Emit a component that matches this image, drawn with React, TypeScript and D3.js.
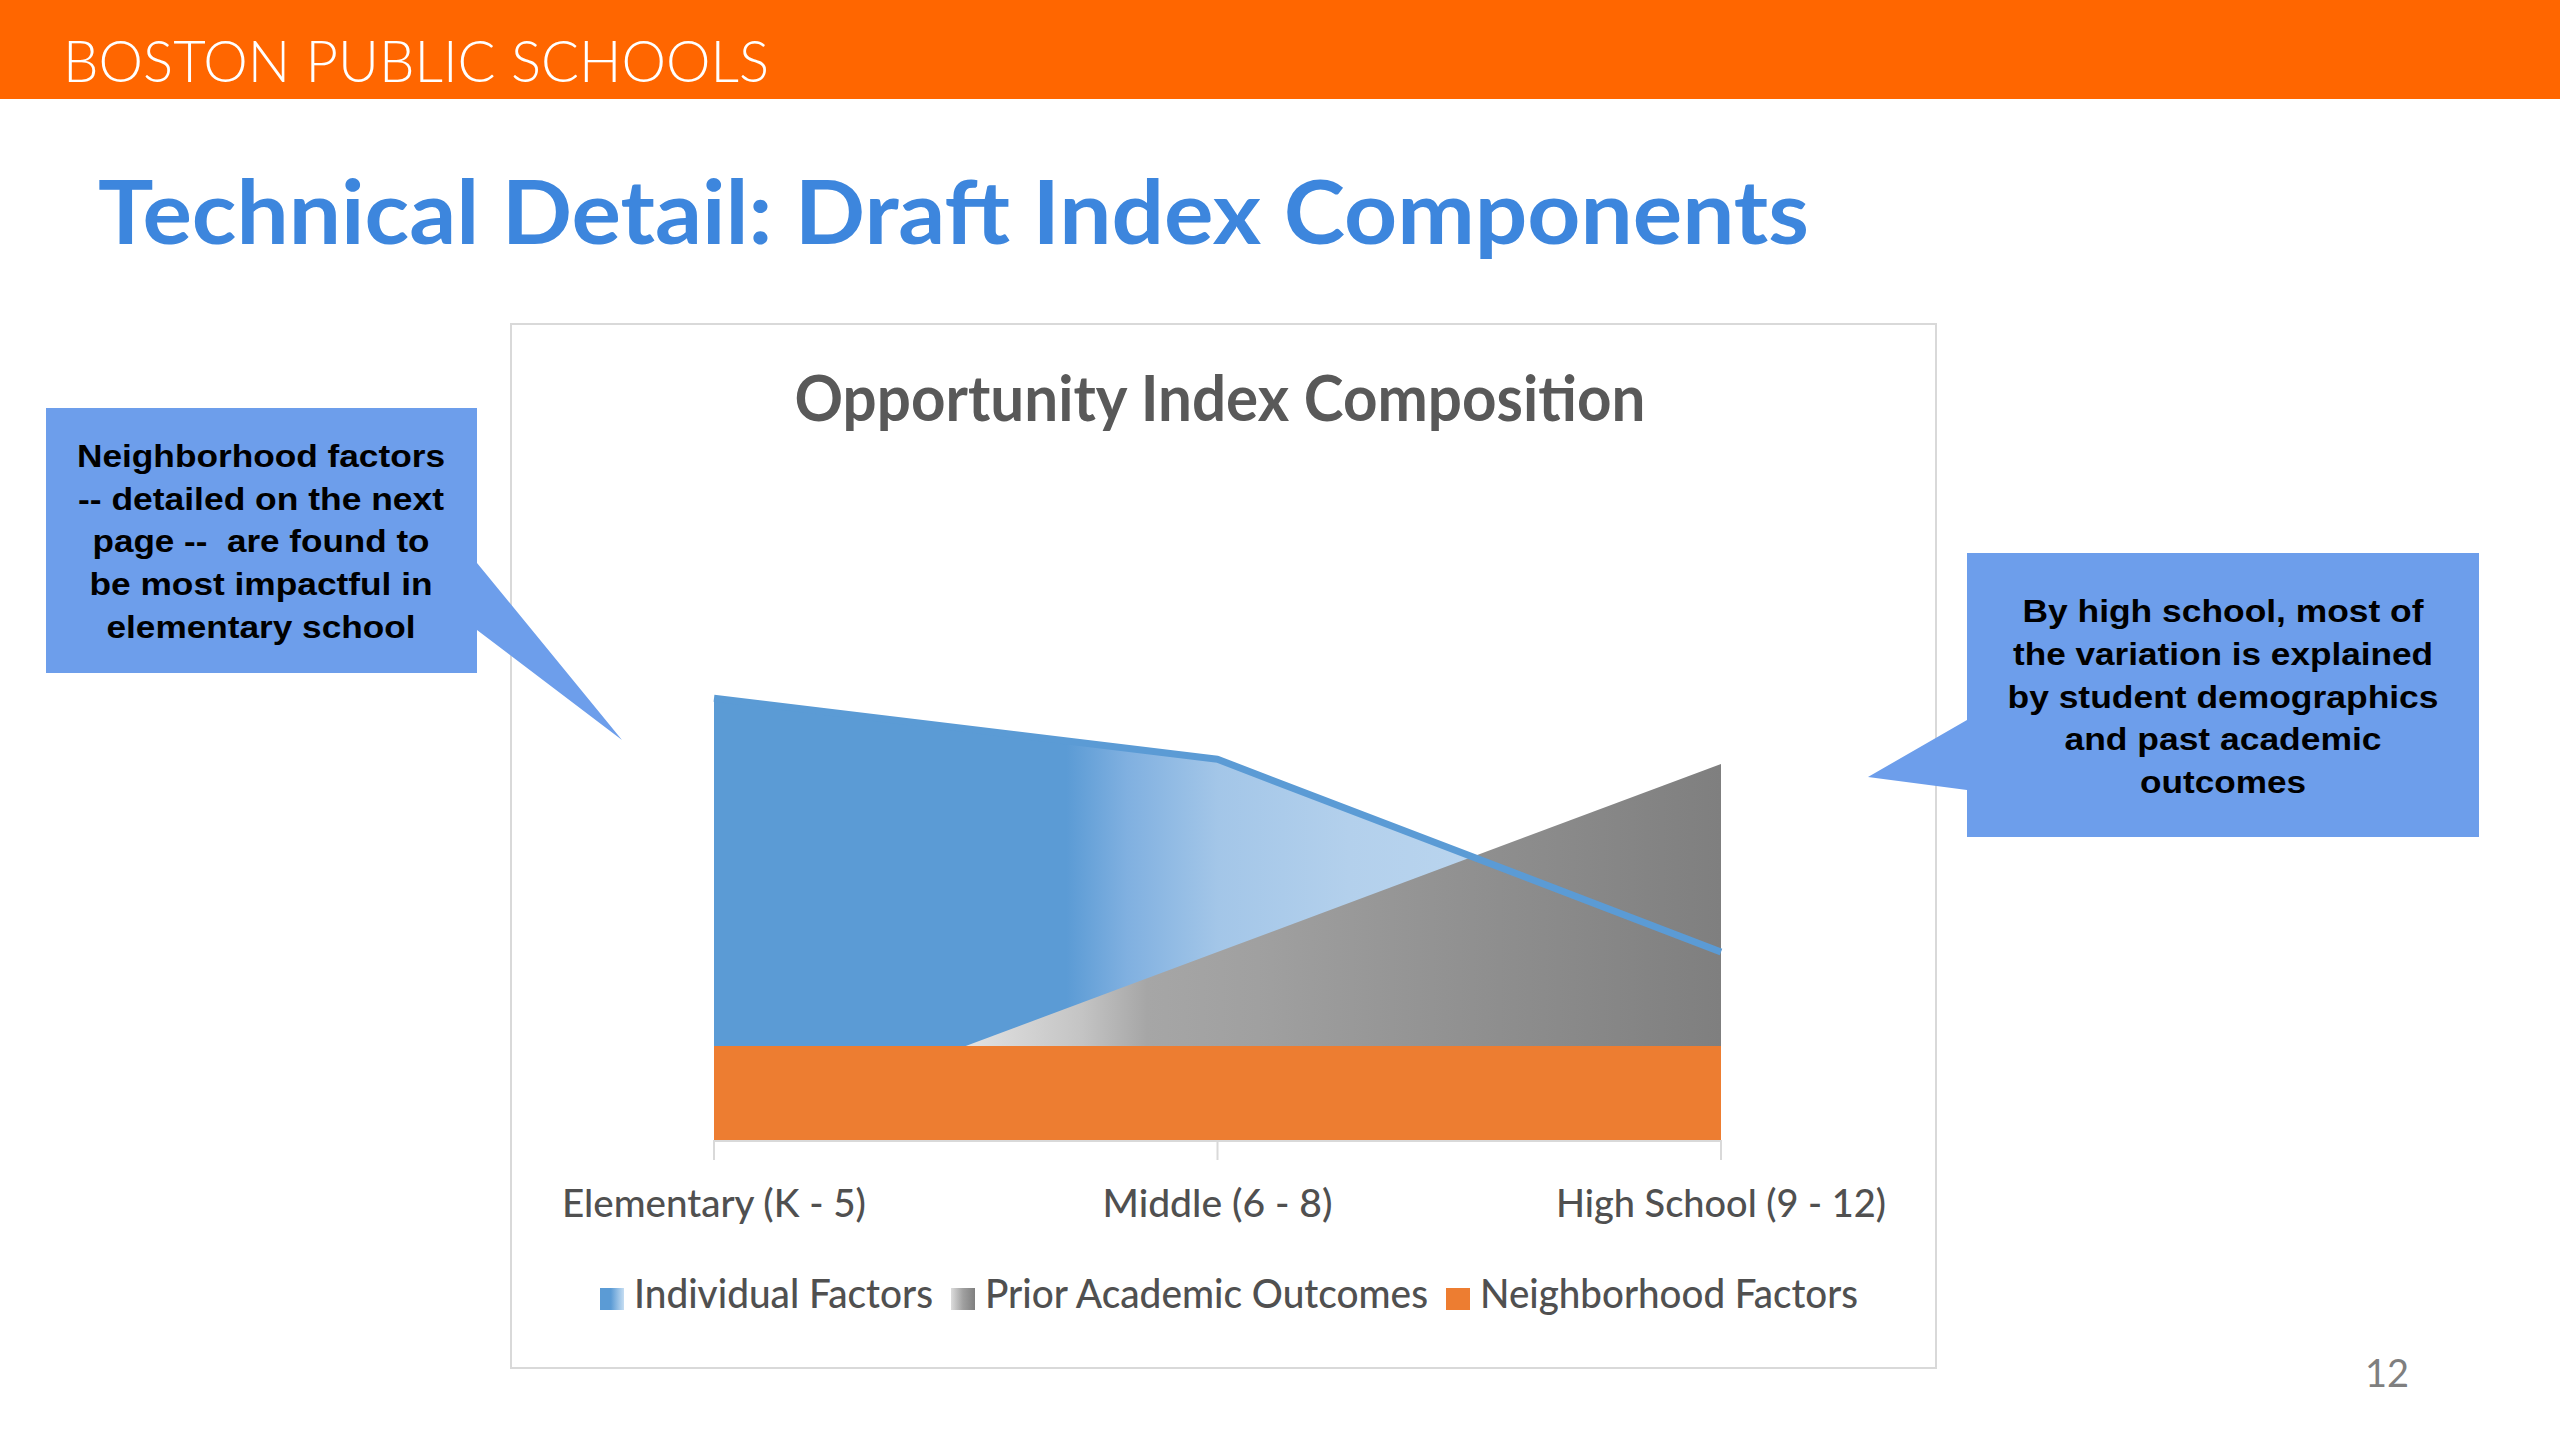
import React, { useEffect } from 'react';
import * as d3 from 'd3';

// chart values
const categories = ['Elementary (K - 5)', 'Middle (6 - 8)', 'High School (9 - 12)'];
const individualFactors = [47, 40.5, 20];
const priorAcademic = [0, 20, 40];
const neighborhoodFactors = [10, 10, 10];
const seriesNames = ['Individual Factors', 'Prior Academic Outcomes', 'Neighborhood Factors'];

const leftNote = [
    'Neighborhood factors',
    '-- detailed on the next',
    'page --  are found to',
    'be most impactful in',
    'elementary school',
];
const rightNote = [
    'By high school, most of',
    'the variation is explained',
    'by student demographics',
    'and past academic',
    'outcomes',
];

// layout constants (text widths measured on the slide)
const W = 2560;
const H = 1440;
const labelWidths = [304, 230, 330];
const legendWidths = [299, 443, 378];
const leftNoteWidths = [368, 366, 337, 343, 309];
const rightNoteWidths = [401, 420, 431, 317, 166];

const FONT = 'Lato, "Open Sans", sans-serif';
const ARIAL = '"Liberation Sans", Arial, sans-serif';

const App = () => {
    useEffect(() => {
        document.body.style.margin = '0';
    }, []);

    const x = d3.scalePoint<string>().domain(categories).range([714, 1721]);
    const y = d3.scaleLinear().domain([0, 50]).range([1140, 670]);

    const area = d3
        .area<number>()
        .x((_, i) => x(categories[i])!)
        .y0(y(0))
        .y1((d) => y(d));

    const line = d3
        .line<number>()
        .x((_, i) => x(categories[i])!)
        .y((d) => y(d));

    const x0 = x(categories[0])!;
    const x1 = x(categories[categories.length - 1])!;

    // legend layout
    const legendStart = 600;
    let cursor = legendStart;
    const legendItems = seriesNames.map((name, i) => {
        const item = { name, mx: cursor, tx: cursor + 34, w: legendWidths[i] };
        cursor = item.tx + item.w + 18;
        return item;
    });
    const legendFills = ['url(#legBlue)', 'url(#legGray)', '#ed7d31'];

    return (
        <svg width={W} height={H} style={{ display: 'block', background: '#fff' }}>
            <defs>
                <linearGradient id="blueFill" gradientUnits="userSpaceOnUse" x1={x0} x2={x1} y1={0} y2={0}>
                    <stop offset="0" stopColor="#5b9bd5" />
                    <stop offset="0.35" stopColor="#5b9bd5" />
                    <stop offset="0.41" stopColor="#80b0e0" />
                    <stop offset="0.5" stopColor="#a3c6e8" />
                    <stop offset="0.63" stopColor="#b3d0ec" />
                    <stop offset="1" stopColor="#c5ddf2" />
                </linearGradient>
                <linearGradient id="grayFill" gradientUnits="userSpaceOnUse" x1={x0} x2={x1} y1={0} y2={0}>
                    <stop offset="0.26" stopColor="#e0e0e0" />
                    <stop offset="0.365" stopColor="#c4c4c4" />
                    <stop offset="0.43" stopColor="#a6a6a6" />
                    <stop offset="0.54" stopColor="#a0a0a0" />
                    <stop offset="0.78" stopColor="#8e8e8e" />
                    <stop offset="1" stopColor="#7f7f7f" />
                </linearGradient>
                <linearGradient id="legBlue" x1="0" x2="1" y1="0" y2="0">
                    <stop offset="0" stopColor="#5b9bd5" />
                    <stop offset="0.45" stopColor="#5b9bd5" />
                    <stop offset="1" stopColor="#c5ddf2" />
                </linearGradient>
                <linearGradient id="legGray" x1="0" x2="1" y1="0" y2="0">
                    <stop offset="0" stopColor="#dcdcdc" />
                    <stop offset="0.5" stopColor="#a0a0a0" />
                    <stop offset="1" stopColor="#7f7f7f" />
                </linearGradient>
            </defs>

            {/* header band */}
            <rect x={0} y={0} width={W} height={99} fill="#ff6600" />
            <text x={63} y={82} fill="#fff" fontFamily={FONT} fontWeight={300} fontSize={57}
                textLength={706} lengthAdjust="spacingAndGlyphs">BOSTON PUBLIC SCHOOLS</text>

            <text x={98} y={244} fill="#3d86dd" fontFamily={FONT} fontWeight="bold" fontSize={88}
                textLength={1711} lengthAdjust="spacingAndGlyphs">Technical Detail: Draft Index Components</text>

            {/* chart frame */}
            <rect x={511} y={324} width={1425} height={1044} fill="#fff" stroke="#d9d9d9" strokeWidth={2} />
            <text x={1220} y={421} textAnchor="middle" fill="#595959" fontFamily={FONT} fontWeight="bold"
                fontSize={64} textLength={851} lengthAdjust="spacingAndGlyphs">Opportunity Index Composition</text>

            {/* areas */}
            <path d={area(individualFactors)!} fill="url(#blueFill)" />
            <path d={area(priorAcademic)!} fill="url(#grayFill)" />
            <path d={area(neighborhoodFactors)!} fill="#ed7d31" />
            <path d={line(individualFactors)!} fill="none" stroke="#5b9bd5" strokeWidth={7} strokeLinejoin="round" />

            {/* x axis */}
            <line x1={x0} x2={x1} y1={y(0) + 1} y2={y(0) + 1} stroke="#d9d9d9" strokeWidth={2} />
            {categories.map((c, i) => (
                <g key={c}>
                    <line x1={x(c)} x2={x(c)} y1={y(0)} y2={y(0) + 20} stroke="#d9d9d9" strokeWidth={2} />
                    <text x={x(c)} y={1217} textAnchor="middle" fill="#505050" fontFamily={FONT} fontWeight={500} fontSize={39}
                        textLength={labelWidths[i]} lengthAdjust="spacingAndGlyphs">{c}</text>
                </g>
            ))}

            {/* legend */}
            {legendItems.map((it, i) => (
                <g key={it.name}>
                    <rect x={it.mx} y={1288} width={24} height={22} fill={legendFills[i]} />
                    <text x={it.tx} y={1308} fill="#505050" fontFamily={FONT} fontWeight={500} fontSize={40}
                        textLength={it.w} lengthAdjust="spacingAndGlyphs">{it.name}</text>
                </g>
            ))}

            {/* left callout */}
            <path d="M46,408 H477 V563 L622,740 L477,630 V673 H46 Z" fill="#6d9eeb" />
            {leftNote.map((t, i) => (
                <text key={t} x={261} y={467 + i * 42.7} textAnchor="middle" fill="#000" fontFamily={ARIAL}
                    fontWeight="bold" fontSize={32} style={{ whiteSpace: 'pre' }}
                    textLength={leftNoteWidths[i]} lengthAdjust="spacingAndGlyphs">{t}</text>
            ))}

            {/* right callout */}
            <path d="M1967,553 H2479 V837 H1967 V790 L1868,777 L1967,720 Z" fill="#6d9eeb" />
            {rightNote.map((t, i) => (
                <text key={t} x={2223} y={622 + i * 42.8} textAnchor="middle" fill="#000" fontFamily={ARIAL}
                    fontWeight="bold" fontSize={32} textLength={rightNoteWidths[i]} lengthAdjust="spacingAndGlyphs">{t}</text>
            ))}

            <text x={2365} y={1387} fill="#7f7f7f" fontFamily={FONT} fontSize={38}>12</text>
        </svg>
    );
};

export default App;
